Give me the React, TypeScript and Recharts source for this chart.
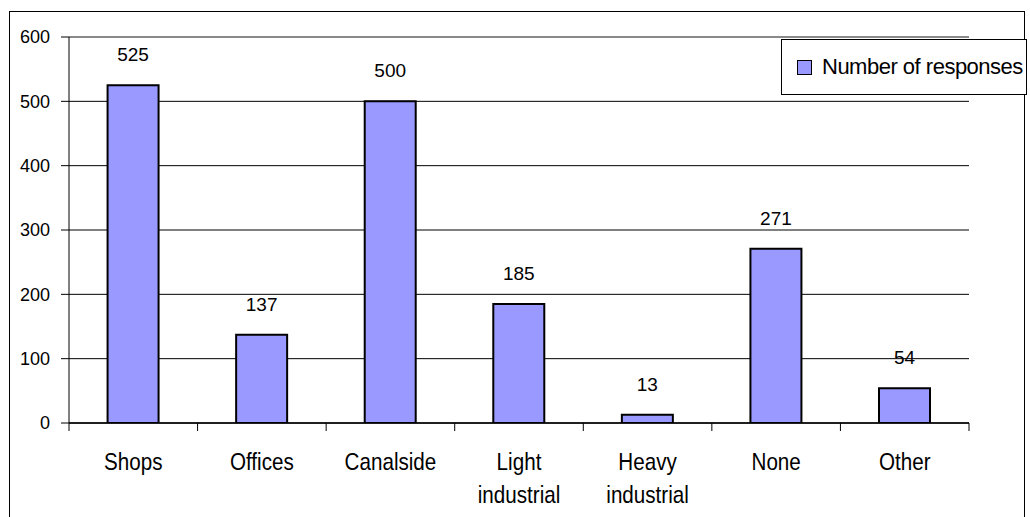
import React from 'react';
import { BarChart, Bar, XAxis, YAxis, CartesianGrid, LabelList, Legend, ReferenceLine } from 'recharts';

const categories = ['Shops', 'Offices', 'Canalside', 'Light industrial', 'Heavy industrial', 'None', 'Other'];
const responses = [525, 137, 500, 185, 13, 271, 54];
const yTicks = [0, 100, 200, 300, 400, 500, 600];
const seriesName = 'Number of responses';

const data = categories.map((name, i) => ({ name, value: responses[i] }));

const FONT = '"Liberation Sans", Arial, sans-serif';
const BAR_FILL = '#9999FF';
const EDGE_TICK = 8;

const XTick = (props: any) => {
  const { x, y, payload, index } = props;
  const half = payload && typeof payload.offset === 'number' ? payload.offset : 0;
  const lines = String(payload.value).split(' ');
  const isLast = index === categories.length - 1;
  return (
    <g transform={`translate(${x},${y})`}>
      <line x1={-half} x2={-half} y1={0} y2={EDGE_TICK} stroke="#000" strokeWidth={1} />
      {isLast && <line x1={half} x2={half} y1={0} y2={EDGE_TICK} stroke="#000" strokeWidth={1} />}
      <text textAnchor="middle" transform="scale(0.86,1)" fontSize={24} fontFamily={FONT} fill="#000">
        {lines.map((l, i) => (
          <tspan key={i} x={0} y={47 + i * 33}>{l}</tspan>
        ))}
      </text>
    </g>
  );
};

const LegendBox = () => (
  <div
    style={{
      width: 244,
      height: 54,
      border: '1.5px solid #000',
      background: '#fff',
      display: 'flex',
      alignItems: 'center',
      fontFamily: FONT,
      fontSize: 22,
      letterSpacing: -0.5,
      color: '#000',
      boxSizing: 'content-box',
    }}
  >
    <span
      style={{
        display: 'inline-block',
        width: 13,
        height: 13,
        background: BAR_FILL,
        border: '1px solid #000',
        marginLeft: 15,
        marginRight: 10,
      }}
    />
    <span style={{ whiteSpace: 'nowrap' }}>{seriesName}</span>
  </div>
);

export default function App() {
  return (
    <div style={{ position: 'absolute', left: 0, top: 0, width: 1030, height: 517, background: '#fff', overflow: 'hidden' }}>
      <div
        style={{
          position: 'absolute',
          left: 9,
          top: 11,
          width: 1016,
          height: 530,
          border: '1px solid #000',
          boxSizing: 'border-box',
        }}
      />
      <div style={{ position: 'absolute', left: 0, top: 0 }}>
        <BarChart
          width={1030}
          height={517}
          data={data}
          margin={{ top: 37, right: 61, left: 9, bottom: 4 }}
          barCategoryGap="30%"
        >
          <CartesianGrid horizontal vertical={false} stroke="#000" strokeWidth={1} />
          <ReferenceLine y={600} stroke="#8c8c8c" strokeWidth={1.5} />
          <XAxis
            dataKey="name"
            height={90}
            tickSize={0}
            tickMargin={0}
            axisLine={{ stroke: '#000', strokeWidth: 1.5 }}
            tickLine={false}
            tick={<XTick />}
            interval={0}
          />
          <YAxis
            domain={[0, 600]}
            ticks={yTicks}
            width={60}
            tickSize={8}
            tickMargin={11}
            axisLine={{ stroke: '#000', strokeWidth: 1 }}
            tickLine={{ stroke: '#000', strokeWidth: 1 }}
            tick={{ fontSize: 18, fontFamily: FONT, fill: '#000' }}
            allowDataOverflow
          />
          <YAxis
            yAxisId="r"
            orientation="right"
            domain={[0, 600]}
            width={0}
            tick={false}
            tickLine={false}
            axisLine={{ stroke: '#8c8c8c', strokeWidth: 1.5 }}
          />
          <Legend
            layout="vertical"
            align="center"
            verticalAlign="middle"
            content={<LegendBox />}
            wrapperStyle={{ position: 'absolute', left: 781, top: 39, width: 'auto', height: 'auto' }}
          />
          <Bar dataKey="value" name={seriesName} fill={BAR_FILL} stroke="#000" strokeWidth={2} isAnimationActive={false}>
            <LabelList dataKey="value" position="top" offset={24} fontSize={19} fontFamily={FONT} fill="#000" />
          </Bar>
        </BarChart>
      </div>
    </div>
  );
}
